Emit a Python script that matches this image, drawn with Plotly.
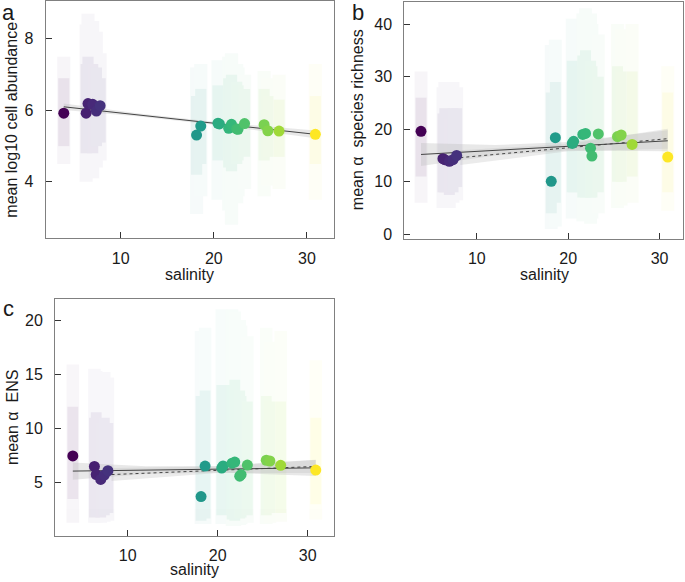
import plotly.graph_objects as go

# ---------------- data ----------------
salinity = [3.9, 6.3, 6.5, 7.0, 7.4, 7.8, 18.15, 18.6, 20.45, 20.6, 21.6, 21.9,
            22.45, 22.6, 23.3, 25.4, 25.8, 27.0, 30.9]

# panel a: mean log10 cell abundance
abundance_mean = [5.92, 5.92, 6.19, 6.17, 5.98, 6.13, 5.31, 5.56, 5.64, 5.62, 5.50, 5.61,
                  5.48, 5.47, 5.63, 5.60, 5.43, 5.42, 5.33]
abundance_cloud_lo = [4.5, 4.0, 4.3, 4.1, 4.4, 4.6, 3.1, 3.6, 3.5, 3.9, 3.2, 2.8, 3.4, 3.6, 3.8, 3.6, 3.9, 3.8, 3.5]
abundance_cloud_hi = [7.5, 8.4, 8.7, 8.5, 8.2, 7.6, 7.2, 7.3, 7.4, 7.1, 7.5, 7.6, 7.3, 7.2, 7.0, 7.1, 6.9, 7.0, 7.3]
abundance_core_lo = [5.0, 4.8, 4.9, 4.8, 5.0, 5.1, 4.2, 4.5, 4.6, 4.7, 4.4, 4.3, 4.5, 4.6, 4.7, 4.6, 4.7, 4.7, 4.5]
abundance_core_hi = [6.9, 7.3, 7.5, 7.3, 7.2, 6.9, 6.4, 6.6, 6.7, 6.6, 6.9, 7.0, 6.8, 6.7, 6.6, 6.6, 6.4, 6.3, 6.4]

# panel b: mean alpha species richness
richness_mean = [19.6, 14.4, 14.2, 13.9, 14.2, 15.0, 10.1, 18.4, 17.3, 17.7, 19.0, 19.2,
                 16.4, 14.9, 19.1, 18.6, 18.9, 17.1, 14.7]
richness_cloud_lo = [6, 5, 5.5, 5, 6, 6.5, 1, 1.5, 3, 3.5, 2.5, 3, 2, 3, 4, 5, 5.5, 6, 4.5]
richness_cloud_hi = [31, 28, 29, 27, 29, 28, 36, 37, 41, 40, 42, 43, 42, 40, 38, 40, 39, 40, 32]
richness_core_lo = [11, 8, 8, 7.5, 8, 9, 4, 6, 8, 8, 7, 7, 7, 7, 8, 10, 10, 11, 8]
richness_core_hi = [26, 23, 24, 22, 24, 24, 27, 29, 33, 32, 34, 35, 33, 32, 30, 32, 31, 31, 27]

# panel c: mean alpha ENS
ens_mean = [7.47, 6.50, 5.75, 5.30, 5.70, 6.10, 3.72, 6.53, 6.35, 6.55, 6.80, 6.90,
            5.60, 5.75, 6.62, 7.07, 7.00, 6.60, 6.16]
ens_cloud_lo = [1.3, 1.3, 1.3, 1.3, 1.4, 1.5, 1.2, 1.2, 1.2, 1.3, 1.0, 1.0, 1.1, 1.2, 1.3, 1.2, 1.3, 1.4, 1.6]
ens_cloud_hi = [15.9, 15.5, 15.3, 14.8, 15.2, 14.7, 19.0, 19.3, 21.0, 20.5, 21.0, 20.8, 20.0, 19.5, 18.5, 19.3, 18.0, 19.0, 16.3]
ens_core_lo = [3.5, 1.8, 1.9, 1.8, 2.0, 2.2, 1.5, 1.7, 2.0, 2.1, 1.6, 1.5, 1.7, 1.8, 2.0, 2.0, 2.2, 2.2, 3.0]
ens_core_hi = [12, 11, 11.5, 10.5, 11, 10.5, 13, 13.5, 14, 13.5, 14, 14.5, 13.5, 13, 12.5, 13, 12.5, 12.5, 11]

# fitted lines (solid) and confidence bands
fit_x = [3.9, 30.9]
abundance_fit = [6.10, 5.33]
richness_fit = [15.2, 17.8]
ens_fit = [6.07, 6.37]

band_x = [3.9, 12, 20, 30.9]
abundance_band_lo = [6.01, 5.83, 5.60, 5.22]
abundance_band_hi = [6.19, 5.91, 5.68, 5.44]
richness_band_lo = [13.0, 15.0, 15.95, 15.8]
richness_band_hi = [17.4, 17.0, 17.55, 19.8]
ens_band_lo = [5.27, 5.81, 5.95, 5.62]
ens_band_hi = [6.87, 6.51, 6.55, 7.12]

# second (dotted) fits
dotted_x = [8.2, 30.9]
richness_dotted = [14.6, 18.2]
ens_dotted = [5.75, 6.50]
dotted_band_x = [8.2, 20, 30.9]
richness_dotted_lo = [13.2, 15.8, 16.3]
richness_dotted_hi = [16.0, 17.2, 20.1]
ens_dotted_lo = [5.15, 5.9, 5.9]
ens_dotted_hi = [6.35, 6.5, 7.1]

x_ticks = [10, 20, 30]
abundance_ticks = [4, 6, 8]
richness_ticks = [0, 10, 20, 30, 40]
ens_ticks = [5, 10, 15, 20]

# ---------------- figure ----------------
W, H = 685, 582
FONT = "Arial, Liberation Sans, sans-serif"
CMIN, CMAX = min(salinity), max(salinity)

fig = go.Figure()

panels = [
    ("x", "y", abundance_mean, abundance_cloud_lo, abundance_cloud_hi, abundance_core_lo, abundance_core_hi,
     abundance_fit, abundance_band_lo, abundance_band_hi, None, None, None),
    ("x2", "y2", richness_mean, richness_cloud_lo, richness_cloud_hi, richness_core_lo, richness_core_hi,
     richness_fit, richness_band_lo, richness_band_hi, richness_dotted, richness_dotted_lo, richness_dotted_hi),
    ("x3", "y3", ens_mean, ens_cloud_lo, ens_cloud_hi, ens_core_lo, ens_core_hi,
     ens_fit, ens_band_lo, ens_band_hi, ens_dotted, ens_dotted_lo, ens_dotted_hi),
]

for (xa, ya, means, clo, chi, klo, khi, fit, blo, bhi, dot, dlo, dhi) in panels:
    for lo, hi, op, wd in [(clo, chi, 0.035, 1.4), (klo, khi, 0.07, 1.2)]:
        fig.add_trace(go.Bar(
            x=salinity, base=lo, y=[h - l for h, l in zip(hi, lo)],
            width=wd, xaxis=xa, yaxis=ya, opacity=op,
            marker=dict(color=salinity, colorscale="Viridis", cmin=CMIN, cmax=CMAX, line=dict(width=0)),
            showlegend=False, hoverinfo="skip"))
    fig.add_trace(go.Scatter(
        x=band_x + band_x[::-1], y=bhi + blo[::-1], fill="toself", mode="lines",
        line=dict(width=0), fillcolor="rgba(190,190,190,0.35)", xaxis=xa, yaxis=ya,
        showlegend=False, hoverinfo="skip"))
    if dot is not None:
        fig.add_trace(go.Scatter(
            x=dotted_band_x + dotted_band_x[::-1], y=dhi + dlo[::-1], fill="toself", mode="lines",
            line=dict(width=0), fillcolor="rgba(190,190,190,0.3)", xaxis=xa, yaxis=ya,
            showlegend=False, hoverinfo="skip"))
        fig.add_trace(go.Scatter(
            x=dotted_x, y=dot, mode="lines", line=dict(color="#444", width=1, dash="dot"),
            xaxis=xa, yaxis=ya, showlegend=False, hoverinfo="skip"))
    fig.add_trace(go.Scatter(
        x=fit_x, y=fit, mode="lines", line=dict(color="#444", width=1),
        xaxis=xa, yaxis=ya, showlegend=False, hoverinfo="skip"))
    fig.add_trace(go.Scatter(
        x=salinity, y=means, mode="markers", xaxis=xa, yaxis=ya,
        marker=dict(size=11, color=salinity, colorscale="Viridis", cmin=CMIN, cmax=CMAX, line=dict(width=0)),
        showlegend=False, hoverinfo="skip"))


def px_x(a, b):
    return [a / W, b / W]


def px_y(top, bottom):
    return [1 - bottom / H, 1 - top / H]


axis_common = dict(showline=True, linecolor="#808080", linewidth=1, mirror=True,
                   ticks="inside", ticklen=6, tickcolor="#333333", tickwidth=1,
                   showgrid=False, zeroline=False,
                   tickfont=dict(family=FONT, size=16, color="#1a1a1a"))
xstyle = dict(axis_common, ticklabelstandoff=5)
ystyle = dict(axis_common, ticklabelstandoff=8)

fig.update_layout(
    width=W, height=H, margin=dict(l=0, r=0, t=0, b=0),
    paper_bgcolor="white", plot_bgcolor="white", barmode="overlay",
    font=dict(family=FONT, color="#1a1a1a"),
    xaxis=dict(domain=px_x(45.7, 334), range=[1.96, 32.9], tickvals=x_ticks, anchor="y", **xstyle),
    yaxis=dict(domain=px_y(1, 240), range=[2.42, 9.06], tickvals=abundance_ticks, anchor="x", **ystyle),
    xaxis2=dict(domain=px_x(404.3, 683.3), range=[2.07, 32.6], tickvals=x_ticks, anchor="y2", **xstyle),
    yaxis2=dict(domain=px_y(2, 240.7), range=[-0.89, 44.2], tickvals=richness_ticks, anchor="x2", **ystyle),
    xaxis3=dict(domain=px_x(55, 334.3), range=[1.92, 32.96], tickvals=x_ticks, anchor="y3", **xstyle),
    yaxis3=dict(domain=px_y(301, 539.3), range=[0.12, 21.95], tickvals=ens_ticks, anchor="x3", **ystyle),
)


def ann(text, xp, yp, size=16, angle=0, xanchor="center"):
    fig.add_annotation(text=text, x=xp / W, y=1 - yp / H, xref="paper", yref="paper",
                       showarrow=False, textangle=angle, xanchor=xanchor, yanchor="middle",
                       font=dict(family=FONT, size=size, color="#1a1a1a"))


ann("salinity", 189.9, 276)
ann("salinity", 544, 276)
ann("salinity", 194, 573.5)
ann("mean log10 cell abundance", 12, 120.5, angle=-90)
ann("mean \u03b1  species richness", 357, 121, angle=-90)
ann("mean \u03b1  ENS", 12, 420, angle=-90)
ann("a", 0, 12.5, size=22, xanchor="left")
ann("b", 350, 12.5, size=22, xanchor="left")
ann("c", 1, 310.5, size=22, xanchor="left")

fig.write_html("out.html", config={"displayModeBar": False},
               post_script="document.body.style.margin='0';document.body.style.padding='0';")
